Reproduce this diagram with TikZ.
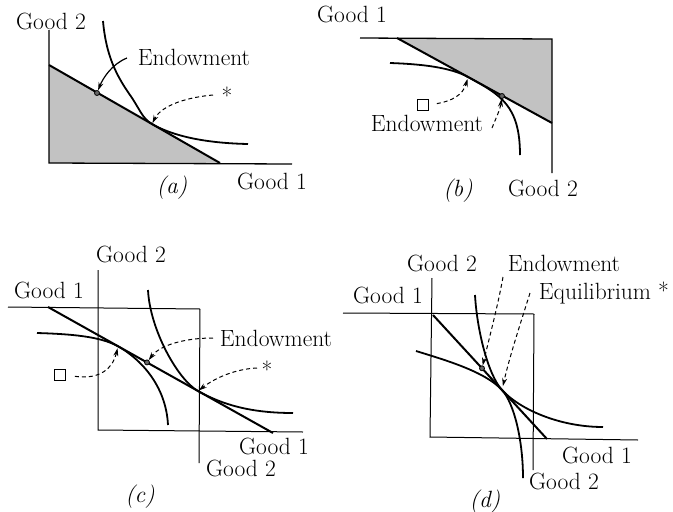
\documentclass[tikz,border=0pt]{standalone}
\usetikzlibrary{arrows.meta}
\begin{document}
\begin{tikzpicture}[x=1pt,y=-1pt,
  lbl/.style={inner sep=0pt, font=\fontsize{23.5}{27}\selectfont},
  captxt/.style={inner sep=0pt, font=\fontsize{23.5}{27}\selectfont\itshape},
  axis/.style={line width=1.3pt},
  boxline/.style={line width=1pt},
  budget/.style={line width=2pt},
  icurve/.style={line width=1.8pt},
  shade/.style={fill=black!24},
  dashedarrow/.style={line width=1pt, dash pattern=on 4pt off 3pt, -{Stealth[length=8pt,width=5pt]}},
  solidarrow/.style={line width=1.2pt, -{Stealth[length=8pt,width=5pt]}},
  dotmark/.style={circle, draw, fill=black!60, line width=0.8pt, minimum size=5pt, inner sep=0pt},
  sqmark/.style={draw, line width=0.9pt, minimum size=11pt, inner sep=0pt},
]
\useasboundingbox (0,0) rectangle (673,512);

% ---------------- panel (a)
\fill[shade] (49,65) -- (49,163) -- (220,163) -- cycle;
\draw[axis] (49,30) -- (49,163) -- (292,164);
\draw[budget] (49,65) -- (220,163);
\coordinate (aT) at (152,124);
\draw[icurve] (103,21) .. controls (106,55) and (116,75) .. (130,95)
  .. controls (140,109.3) and (142,118.2) .. (aT)
  .. controls (170,134.4) and (200,143) .. (248,144);
\node[dotmark] (aDot) at (97,93) {};
\node[lbl] (aG2) at (51,21) {Good 2};
\node[lbl] (aEnd) at (194,57) {Endowment};
\node[lbl] (aStar) at (227,96) {*};
\node[lbl] (aG1) at (272,181) {Good 1};
\node[captxt] (aCap) at (172,188) {(a)};
\coordinate (aEndS) at (127,58);
\coordinate (aStarS) at (213,95);
\draw[solidarrow] (aEndS) .. controls (112,64) and (103,78) .. (aDot);
\draw[dashedarrow, shorten >=1pt] (aStarS) .. controls (180,98) and (160,108) .. (aT);

% ---------------- panel (b)
\fill[shade] (397,38) -- (552,39) -- (552,123) -- cycle;
\draw[axis] (360,38) -- (552,39) -- (552,173);
\draw[budget] (397,38) -- (552,123);
\coordinate (bT) at (468,77);
\draw[icurve] (390,63) .. controls (420,64) and (450,67.1) .. (bT)
  .. controls (500,94.6) and (520,105) .. (520,155);
\node[dotmark] (bDot) at (502,96) {};
\node[sqmark] (bSq) at (423,105) {};
\node[lbl] (bG1) at (352,14) {Good 1};
\node[lbl] (bEnd) at (427,123) {Endowment};
\node[lbl] (bG2) at (543,188) {Good 2};
\node[captxt] (bCap) at (458,191) {(b)};
\coordinate (bEndS) at (492,128);
\draw[dashedarrow, shorten <=8pt, shorten >=2pt] (bSq.east) .. controls (452,101) and (463,95) .. (bT);
\draw[dashedarrow] (bEndS) .. controls (496,118) and (500,110) .. (bDot);

% ---------------- panel (c)
\draw[boxline] (8,307) -- (200,309);
\draw[boxline] (98,270) -- (98,430) -- (303,432);
\draw[boxline] (200,309) -- (199,463);
\draw[budget] (48,307) -- (273,433);
\coordinate (cT1) at (118,346.3);
\coordinate (cT2) at (198,391);
\draw[icurve] (37,333) .. controls (70,334) and (100,336.2) .. (cT1)
  .. controls (140,358.6) and (166,385) .. (168,425);
\draw[icurve] (148,290) .. controls (150,330) and (178,379.8) .. (cT2)
  .. controls (222,404.4) and (250,413) .. (293,413);
\node[dotmark] (cDot) at (147,362.4) {};
\node[sqmark] (cSq) at (60,375) {};
\node[lbl] (cG2t) at (131,254) {Good 2};
\node[lbl] (cG1t) at (49,290) {Good 1};
\node[lbl] (cEnd) at (276,338) {Endowment};
\node[lbl] (cStar) at (267,370) {*};
\node[lbl] (cG1b) at (274,446) {Good 1};
\node[lbl] (cG2b) at (241,468) {Good 2};
\node[captxt] (cCap) at (140,497) {(c)};
\coordinate (cEndS) at (213,338);
\coordinate (cStarS) at (257,368);
\draw[dashedarrow] (cEndS) .. controls (185,338) and (160,345) .. (cDot);
\draw[dashedarrow, shorten >=1pt] (cStarS) .. controls (235,369) and (215,378) .. (cT2);
\draw[dashedarrow, shorten <=9pt, shorten >=2pt] (cSq.east) .. controls (100,380) and (113,368) .. (cT1);

% ---------------- panel (d)
\draw[boxline] (343,313) -- (534,314);
\draw[boxline] (432,278) -- (430,437) -- (638,440);
\draw[boxline] (534,314) -- (533,470);
\draw[budget] (433,315) -- (547,439);
\coordinate (dT) at (502,390);
\draw[icurve] (416,351) .. controls (445,360) and (485,371.5) .. (dT)
  .. controls (514,403.1) and (523,440) .. (523,478);
\draw[icurve] (475,295) .. controls (477,330) and (488,374.8) .. (dT)
  .. controls (520,409.6) and (560,427) .. (603,427);
\node[dotmark] (dDot) at (482,368.3) {};
\node[lbl] (dG2t) at (442,263) {Good 2};
\node[lbl] (dEnd) at (564,263) {Endowment};
\node[lbl] (dG1t) at (388,295) {Good 1};
\node[lbl] (dEq) at (604,293) {Equilibrium *};
\node[lbl] (dG1b) at (597,455) {Good 1};
\node[lbl] (dG2b) at (564,481) {Good 2};
\node[captxt] (dCap) at (485,502) {(d)};
\coordinate (dEndS) at (503,277);
\coordinate (dEqS) at (530,293);
\draw[dashedarrow] (dEndS) .. controls (498,305) and (490,335) .. (dDot);
\draw[dashedarrow, shorten >=4pt] (dEqS) .. controls (520,325) and (510,355) .. (dT);
\end{tikzpicture}
\end{document}
